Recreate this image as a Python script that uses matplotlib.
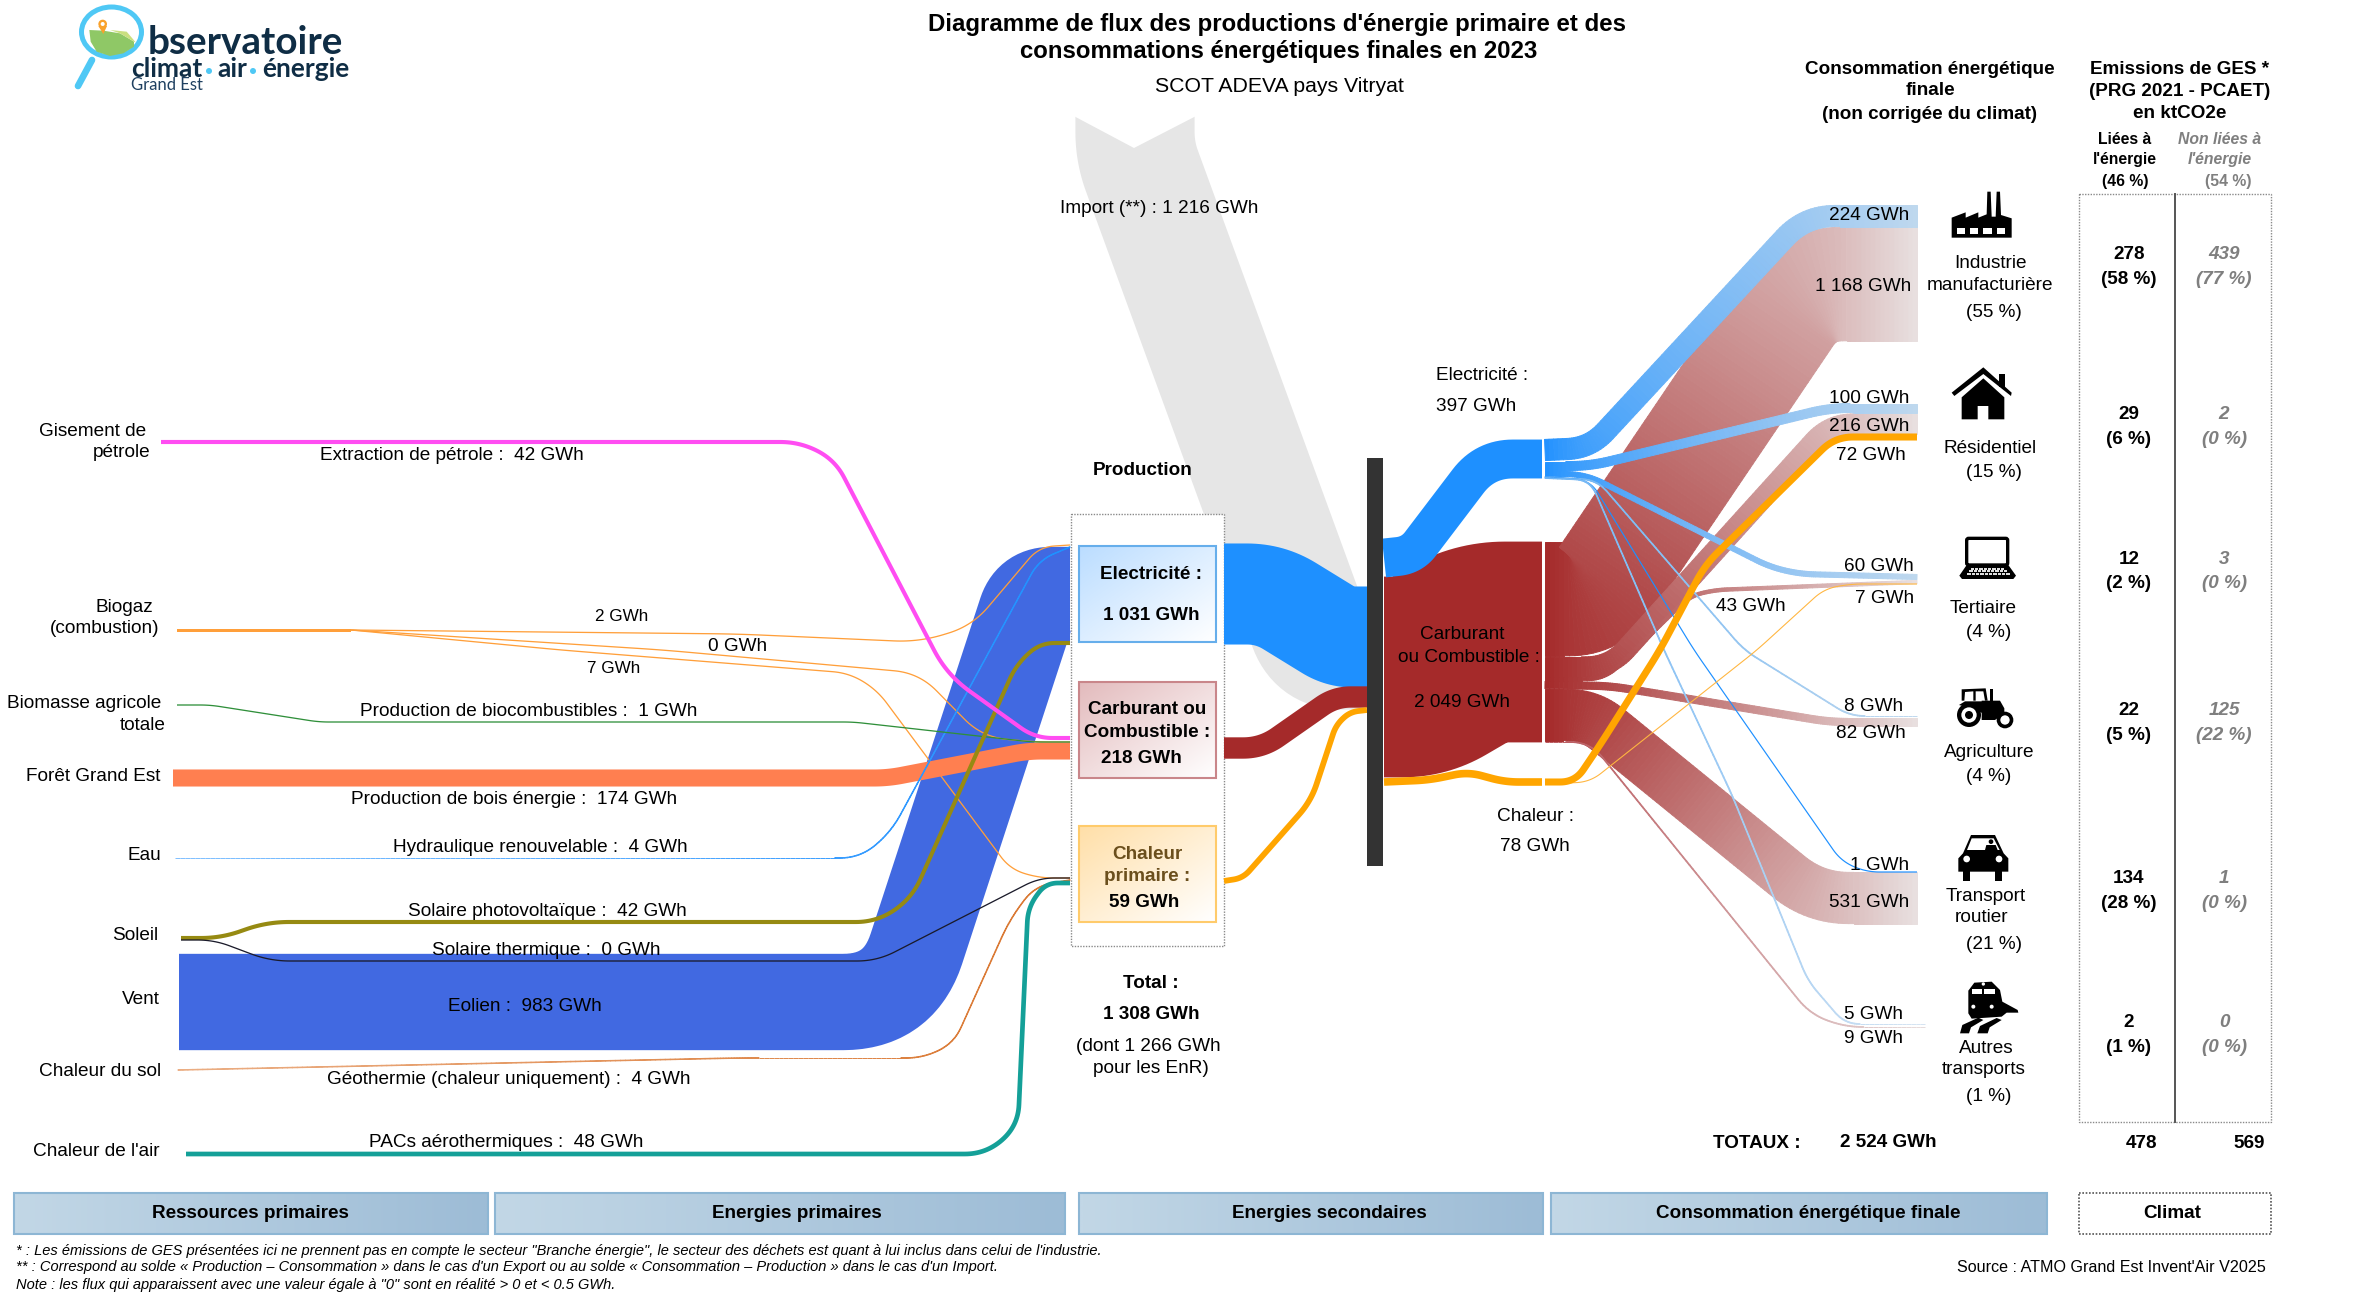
import numpy as np
import matplotlib
matplotlib.use("Agg")
import matplotlib.pyplot as plt
from matplotlib.collections import PolyCollection
from matplotlib.patches import Polygon, Rectangle, Circle, Ellipse, FancyBboxPatch
from matplotlib.colors import to_rgb

plt.rcParams['font.family'] = ['Liberation Sans', 'DejaVu Sans']

# ---------- data (GWh / ktCO2e / %) ----------
prod_petrole = 42
prod_biogaz = [2, 0, 7]
prod_biocomb = 1
prod_bois = 174
prod_hydro = 4
prod_pv = 42
prod_thermique = 0
prod_eolien = 983
prod_geo = 4
prod_pac = 48
prod_totals = [1031, 218, 59]
import_gwh = 1216
secondary = [397, 2049, 78]
sector_names = [["Industrie", "manufacturière"], ["Résidentiel"], ["Tertiaire"], ["Agriculture"],
                ["Transport", "routier"], ["Autres", "transports"]]
sector_share = [55, 15, 4, 4, 21, 1]
elec_to_sector = [224, 100, 60, 8, 1, 5]
fuel_to_sector = [1168, 216, 43, 82, 531, 9]
heat_to_sector = [72, 7]
ges_energy = [278, 29, 12, 22, 134, 2]
ges_energy_pct = [58, 6, 2, 5, 28, 1]
ges_other = [439, 2, 3, 125, 1, 0]
ges_other_pct = [77, 0, 0, 22, 0, 0]
ges_totals = [478, 569]
ges_share = [46, 54]
total_prod = 1308
total_enr = 1266
total_final = 2524
band_labels = ["Ressources primaires", "Energies primaires", "Energies secondaires",
               "Consommation énergétique finale"]

K = 0.098          # px per GWh
fig = plt.figure(figsize=(23.70, 12.99), dpi=100)
ax = fig.add_axes([0, 0, 1, 1])
ax.set_axis_off()


def gwh(v):
    s = f"{v:,}".replace(",", " ")
    return f"{s} GWh"


def round_path(pts, r):
    pts = [np.array(p, float) for p in pts]
    out = [pts[0]]
    for i in range(1, len(pts) - 1):
        a, b, c = pts[i - 1], pts[i], pts[i + 1]
        la, lc = np.linalg.norm(b - a), np.linalg.norm(c - b)
        d = min(r, la * 0.5, lc * 0.5)
        p0 = b - (b - a) / la * d
        p2 = b + (c - b) / lc * d
        for t in np.linspace(0, 1, 17):
            out.append((1 - t) ** 2 * p0 + 2 * t * (1 - t) * b + t ** 2 * p2)
    out.append(pts[-1])
    res = [out[0]]
    for q in out[1:]:
        p = res[-1]
        dist = np.linalg.norm(q - p)
        if dist < 1e-6:
            continue
        n = int(dist // 5) + 1
        for t in np.linspace(0, 1, n + 1)[1:]:
            res.append(p + (q - p) * t)
    return np.array(res)


def flow(value, pts, c0, c1=None, r=30, z=3, minw=1.3, x_span=None, gamma=1.0):
    P = round_path(pts, r)
    Tn = np.gradient(P, axis=0)
    Tn /= np.linalg.norm(Tn, axis=1, keepdims=True)
    N = np.c_[-Tn[:, 1], Tn[:, 0]]
    w = max(K * value, minw) / 2
    if c1 is None:
        A, B = P + N * w, P - N * w
        ax.add_patch(Polygon(np.r_[A, B[::-1]], closed=True, fc=c0, ec='none', zorder=z))
        return
    w = max(w - 0.4, 0.3)
    A, B = P + N * w, P - N * w
    quads = [[A[i], A[i + 1], B[i + 1], B[i]] for i in range(len(P) - 1)]
    c0 = np.array(to_rgb(c0))
    c1 = np.array(to_rgb(c1))
    x0, x1 = x_span if x_span else (P[:, 0].min(), P[:, 0].max())
    tt = np.clip(((P[:-1, 0] + P[1:, 0]) / 2 - x0) / (x1 - x0), 0, 1) ** gamma
    cols = [tuple(c0 + (c1 - c0) * t) for t in tt]
    ax.add_collection(PolyCollection(quads, facecolors=cols, edgecolors=cols, linewidths=0.7, zorder=z))


def T(x, y, s, size=13.7, ha='center', bold=False, italic=False, color='black', z=12, **kw):
    ax.text(x, y + 1.5, s, fontsize=size, ha=ha, va='center', color=color, zorder=z,
            fontweight='bold' if bold else 'normal', fontstyle='italic' if italic else 'normal', **kw)


def grad_box(x0, y0, x1, y1, c0, c1, edge=None, z=6, lw=1.5, horizontal=False):
    n = 64
    X, Y = np.meshgrid(np.linspace(0, 1, n), np.linspace(0, 1, n))
    t = X if horizontal else (X + Y) / 2
    c0, c1 = np.array(to_rgb(c0)), np.array(to_rgb(c1))
    img = c0[None, None, :] + (c1 - c0)[None, None, :] * t[..., None]
    ax.imshow(img, extent=(x0, x1, y1, y0), aspect='auto', zorder=z, interpolation='bilinear')
    if edge:
        ax.add_patch(Rectangle((x0, y0), x1 - x0, y1 - y0, fill=False, ec=edge, lw=lw, zorder=z + 0.1))


def dotted(x0, y0, x1, y1, z=2, ec='#8A8A8A', lw=1.0):
    ax.add_patch(Rectangle((x0, y0), x1 - x0, y1 - y0, fc='white', ec=ec, lw=lw, ls=(0, (1, 1)), zorder=z))


# ---------- import ribbon ----------
flow(import_gwh, [(1135, 112), (1135, 152), (1317, 650), (1367, 650)], '#E6E6E6', r=60, z=1)
ax.add_patch(Polygon([(1070, 114), (1134, 148), (1200, 114), (1200, 100), (1070, 100)], fc='white', ec='none', zorder=1.5))

# ---------- production group frame ----------
dotted(1071, 514, 1224, 946, z=2)

# ---------- resources -> primary ----------
BLUE_W = '#4169E1'
flow(prod_eolien, [(179, 1002), (899, 1002), (1032, 595), (1070, 595)], BLUE_W, r=56, z=3)
# biogas
ORG = '#FF9F3A'
flow(sum(prod_biogaz), [(177, 630), (351, 630)], ORG, minw=3, z=4)
flow(prod_biogaz[0], [(351, 630), (737, 634), (919, 642), (972, 626), (1039, 547), (1070, 545)], ORG, r=25, z=4)
flow(prod_biogaz[1], [(351, 630), (663, 650), (919, 673), (982, 737), (1035, 742), (1070, 742)], ORG, r=25, z=4)
flow(prod_biogaz[2], [(351, 630), (561, 650), (849, 673), (877, 690), (1010, 869), (1039, 878), (1070, 878)], ORG, r=22, z=4)
# biofuel
flow(prod_biocomb, [(177, 705), (210, 705), (319, 722), (853, 722), (1032, 742), (1070, 742)], '#2F8F3A', r=10, z=4.2)
# wood
flow(prod_bois, [(173, 778), (888, 778), (1028, 751), (1070, 751)], '#FF7F50', r=14, z=4)
# hydro
flow(prod_hydro, [(175, 858), (860, 858), (891, 832), (1039, 560), (1070, 547)], '#7FBFFF', '#1E90FF', r=25, z=4)
# sun
flow(prod_pv, [(181, 938), (221, 938), (267, 922), (877, 922), (912, 898), (1016, 665), (1040, 643), (1070, 643)],
     '#968A12', r=22, z=4.3)
flow(prod_thermique, [(181, 940), (214, 940), (270, 961), (877, 961), (1039, 878), (1070, 878)], '#1A1A2A', r=20, z=4.3)
# geothermal
flow(prod_geo, [(178, 1070), (737, 1058), (923, 1058), (954, 1043), (1010, 919), (1035, 886), (1070, 880)],
     '#EBAE84', '#D9762F', r=22, z=4)
# air heat pumps
flow(prod_pac, [(186, 1154), (986, 1154), (1018, 1126), (1028, 907), (1046, 883), (1070, 883)], '#14A098', r=28, z=4.2)
# oil
flow(prod_petrole, [(161, 442), (800, 442), (835, 460), (947, 675), (1035, 738), (1070, 738)], '#FF4DF2', r=28, z=4.4)

# ---------- primary -> bar ----------
flow(prod_totals[0], [(1224, 594), (1270, 594), (1340, 637), (1367, 637)], '#1E90FF', r=30, z=3)
flow(prod_totals[1], [(1224, 748), (1262, 748), (1335, 697), (1367, 697)], '#A52A2A', r=22, z=3.2)
flow(prod_totals[2], [(1224, 881), (1243, 878), (1311, 801), (1336, 725), (1350, 712), (1367, 710)], '#FFA500', r=18, minw=5, z=3.2)

# ---------- primary boxes ----------
grad_box(1079, 546, 1216, 642, '#BBDDFF', '#FFFFFF', '#66AEEB')
grad_box(1079, 682, 1216, 778, '#E3BBBD', '#FFFFFF', '#C9868A')
grad_box(1079, 826, 1216, 922, '#FFDFA8', '#FFFFFF', '#FFCB6B')

# ---------- central bar ----------
ax.add_patch(Rectangle((1367, 458), 16, 408, fc='#333333', ec='none', zorder=5))

# ---------- bar -> secondary nodes ----------
flow(secondary[1], [(1384, 677), (1420, 677), (1480, 642), (1542, 642)], '#A52A2A', r=25, z=3)
flow(secondary[0], [(1384, 558), (1412, 555), (1485, 459), (1542, 459)], '#1E90FF', r=28, z=3.2)
flow(secondary[2], [(1384, 782), (1429, 780), (1468, 772), (1505, 782), (1542, 782)], '#FFA500', r=14, z=3.2)

# ---------- secondary -> sectors ----------
SPAN = (1545, 1917)
RED0, RED1 = '#A52A2A', '#E8E0E0'
BL0, BL1 = '#1E90FF', '#BFD8EE'
GB = 0.7
flow(fuel_to_sector[0], [(1545, 599), (1593, 599), (1806, 284), (1917, 284)], RED0, RED1, r=36, z=3, x_span=SPAN)
flow(fuel_to_sector[4], [(1545, 715), (1590, 715), (1815, 898), (1917, 898)], RED0, RED1, r=34, z=3.1, x_span=SPAN)
flow(fuel_to_sector[1], [(1545, 667), (1610, 667), (1830, 424), (1917, 424)], RED0, RED1, r=24, z=3.2, x_span=SPAN)
flow(fuel_to_sector[2], [(1545, 679), (1605, 679), (1690, 596), (1715, 590), (1917, 582)], RED0, RED1, r=18, z=3.2, x_span=SPAN)
flow(fuel_to_sector[3], [(1545, 685), (1610, 686), (1830, 722), (1917, 722)], RED0, RED1, r=18, z=3.3, x_span=SPAN)
flow(fuel_to_sector[5], [(1545, 742), (1590, 742), (1810, 1014), (1845, 1027), (1925, 1027)], '#B8555A', '#E6DADA', r=20, z=3.3, minw=1.6, x_span=SPAN)

flow(elec_to_sector[0], [(1545, 450), (1590, 448), (1805, 216), (1917, 216)], BL0, BL1, r=30, z=3.6, x_span=SPAN, gamma=GB)
flow(elec_to_sector[1], [(1545, 466), (1590, 466), (1830, 408), (1917, 408)], BL0, BL1, r=20, z=3.6, x_span=SPAN, gamma=GB)
flow(elec_to_sector[2], [(1545, 474), (1585, 474), (1770, 567), (1800, 574), (1917, 577)], BL0, BL1, r=20, z=3.6, x_span=SPAN, gamma=GB)
flow(elec_to_sector[3], [(1545, 477), (1597, 480), (1744, 650), (1850, 716), (1917, 716)], '#6CB4F5', '#BFD8EE', r=15, z=3.6, minw=1.6, x_span=SPAN)
flow(elec_to_sector[4], [(1545, 477), (1590, 480), (1694, 650), (1841, 861), (1866, 872), (1917, 872)], '#1E90FF', r=15, z=3.6, minw=1.2)
flow(elec_to_sector[5], [(1545, 478), (1590, 480), (1664, 650), (1732, 795), (1808, 981), (1845, 1024), (1925, 1024)], '#6CB4F5', '#D5E4F2', r=15, z=3.6, minw=1.6, x_span=SPAN)

flow(heat_to_sector[1], [(1545, 784), (1590, 782), (1757, 650), (1824, 589), (1850, 584), (1917, 584)], '#FFB640', r=14, z=3.7, minw=1.1)
flow(heat_to_sector[0], [(1545, 782), (1575, 782), (1600, 745), (1660, 650), (1705, 565), (1835, 437), (1917, 437)], '#FFA500', r=18, z=3.8, minw=6)

# ---------- icons ----------
def shape(ox, oy, pts, fc='black', z=8, s=3.0):
    ax.add_patch(Polygon([(ox + a / s, oy + b / s) for a, b in pts], fc=fc, ec='none', zorder=z))


def disc(ox, oy, cx, cy, r, fc='black', z=8, s=3.0):
    ax.add_patch(Circle((ox + cx / s, oy + cy / s), r / s, fc=fc, ec='none', zorder=z))


def box(ox, oy, a, b, c, d, fc='black', z=8, s=3.0):
    ax.add_patch(Rectangle((ox + a / s, oy + b / s), (c - a) / s, (d - b) / s, fc=fc, ec='none', zorder=z))


# factory
o = (1945, 185)
shape(*o, [(20, 158), (20, 98), (62, 82), (62, 98), (100, 82), (100, 98), (125, 88), (127, 20), (137, 20), (140, 95),
           (152, 95), (155, 20), (165, 20), (168, 90), (200, 100), (200, 158)])
for a in (35, 75, 115, 155):
    box(*o, a, 130, a + 25, 148, fc='white', z=8.1)
# house
o = (1945, 360)
box(*o, 162, 42, 180, 80)
shape(*o, [(20, 98), (115, 22), (200, 98), (198, 108), (115, 42), (28, 108)])
shape(*o, [(50, 112), (115, 55), (178, 112), (178, 178), (130, 178), (130, 138), (98, 138), (98, 178), (50, 178)])
# laptop
o = (1950, 525)
ax.add_patch(FancyBboxPatch((o[0] + 50 / 3, o[1] + 40 / 3), 123 / 3, 80 / 3, boxstyle="round,pad=0,rounding_size=2",
                            fc='white', ec='black', lw=2.4, zorder=8))
shape(*o, [(50, 120), (175, 120), (198, 152), (190, 162), (36, 162), (28, 152)])
for row, (yy, a0, a1) in enumerate([(128, 62, 162), (136, 58, 166), (144, 52, 172)]):
    for xx in np.arange(a0, a1, 13):
        box(*o, xx, yy, xx + 10, yy + 6, fc='#E0E0E0', z=8.1)
# tractor
o = (1945, 670)
shape(*o, [(110, 92), (165, 92), (178, 115), (178, 130), (150, 150), (110, 150)])
shape(*o, [(42, 105), (60, 94), (115, 94), (115, 130), (60, 110)])
shape(*o, [(50, 58), (122, 55), (128, 92), (120, 92), (115, 64), (92, 64), (92, 92), (85, 92), (85, 64), (60, 66), (58, 92), (50, 92)])
box(*o, 135, 58, 145, 92)
disc(*o, 72, 135, 36)
disc(*o, 72, 135, 23, fc='white', z=8.1)
disc(*o, 72, 135, 12, z=8.2)
disc(*o, 180, 150, 25)
disc(*o, 180, 150, 14, fc='white', z=8.1)
# car
o = (1945, 825)
shape(*o, [(78, 30), (150, 30), (176, 85), (190, 100), (190, 140), (40, 140), (40, 100), (54, 85)])
shape(*o, [(80, 40), (146, 40), (164, 75), (66, 75)], fc='white', z=8.1)
disc(*o, 138, 50, 7, z=8.2)
shape(*o, [(120, 75), (124, 60), (152, 60), (158, 75)], z=8.2)
disc(*o, 65, 102, 10, fc='white', z=8.1)
disc(*o, 162, 102, 10, fc='white', z=8.1)
box(*o, 55, 138, 76, 168)
box(*o, 150, 138, 172, 168)
# train
o = (1945, 970)
shape(*o, [(70, 130), (70, 62), (88, 38), (140, 35), (165, 60), (172, 95), (218, 120), (220, 128), (185, 128), (170, 140), (80, 146)])
box(*o, 80, 57, 112, 72, fc='white', z=8.1)
box(*o, 118, 57, 150, 72, fc='white', z=8.1)
disc(*o, 85, 110, 6, fc='white', z=8.1)
disc(*o, 140, 110, 6, fc='white', z=8.1)
disc(*o, 115, 42, 5, fc='white', z=8.1)
for q in ([(45, 190), (52, 165), (100, 143), (115, 150), (78, 172), (72, 190)],
          [(97, 190), (105, 168), (155, 144), (170, 150), (134, 172), (128, 190)]):
    shape(*o, q)

# ---------- logo ----------
CY = '#4FC8F5'
ax.plot([92, 78], [60, 86], color=CY, lw=4.8, solid_capstyle='round', zorder=7)
ax.add_patch(Ellipse((111.5, 32), 60, 50, fc='white', ec=CY, lw=3.6, zorder=7))
shape(60, 0, [(88, 90), (130, 92), (180, 100), (222, 125), (222, 140), (190, 160), (150, 168), (110, 155), (92, 125)], fc='#8FC866')
shape(60, 0, [(150, 90), (200, 95), (228, 128), (222, 125), (180, 100)], fc='#CADF80')
disc(60, 0, 128, 72, 13, fc='#F9A12B', z=8.2)
disc(60, 0, 128, 72, 6, fc='white', z=8.3)
shape(60, 0, [(115, 78), (141, 78), (130, 102)], fc='#F9A12B', z=8.1)
NAVY = '#0F2D45'
ax.text(148, 42, "bservatoire", fontsize=27.8, family='Lato', fontweight='bold', color=NAVY, ha='left', va='center', zorder=9)
ax.text(131, 69, "climat", fontsize=19, family='Lato', fontweight='bold', color=NAVY, ha='left', va='center', zorder=9)
ax.text(217, 69, "air", fontsize=19, family='Lato', fontweight='bold', color=NAVY, ha='left', va='center', zorder=9)
ax.text(262, 69, "énergie", fontsize=19, family='Lato', fontweight='bold', color=NAVY, ha='left', va='center', zorder=9)
disc(0, 0, 209, 71, 3, fc=CY, s=1)
disc(0, 0, 253, 71, 3, fc=CY, s=1)
ax.text(131, 85, "Grand Est", fontsize=12, family='Lato', color='#1F4060', ha='left', va='center', zorder=9)

# ---------- titles ----------
T(1277, 23, "Diagramme de flux des productions d'énergie primaire et des", size=17.3, bold=True)
T(1279, 50, "consommations énergétiques finales en 2023", size=17.3, bold=True)
T(1279, 85, "SCOT ADEVA pays Vitryat", size=15.3)

H = 13.6
for s, y in zip(["Consommation énergétique", "finale", "(non corrigée du climat)"], [68, 89, 113]):
    T(1930, y, s, size=H, bold=True)
for s, y in zip(["Emissions de GES *", "(PRG 2021 - PCAET)", "en ktCO2e"], [68, 90, 112]):
    T(2180, y, s, size=H, bold=True)
for s, y in zip(["Liées à", "l'énergie", f"({ges_share[0]} %)"], [138, 158, 180]):
    T(2125, y, s, size=11.3, bold=True)
for s, y in zip(["Non liées à", "l'énergie"], [138, 158]):
    T(2220, y, s, size=11.3, bold=True, italic=True, color='#7F7F7F')
T(2228, 180, f"({ges_share[1]} %)", size=11.3, bold=True, color='#7F7F7F')

# ---------- left labels ----------
for s, x, y in [("Gisement de", 146, 430), ("pétrole", 150, 451), ("Biogaz", 153, 606), ("(combustion)", 159, 627),
                ("Biomasse agricole", 161, 702), ("totale", 166, 724), ("Forêt Grand Est", 160, 775), ("Eau", 161, 854),
                ("Soleil", 158, 934), ("Vent", 160, 998), ("Chaleur du sol", 161, 1070), ("Chaleur de l'air", 160, 1150)]:
    T(x, y, s, ha='right')

T(452, 454, f"Extraction de pétrole :  {gwh(prod_petrole)}")
T(622, 615, gwh(prod_biogaz[0]), size=12.3)
T(738, 645, gwh(prod_biogaz[1]))
T(614, 667, gwh(prod_biogaz[2]), size=12.3)
T(529, 710, f"Production de biocombustibles :  {gwh(prod_biocomb)}")
T(514, 798, f"Production de bois énergie :  {gwh(prod_bois)}")
T(540, 846, f"Hydraulique renouvelable :  {gwh(prod_hydro)}")
T(547, 910, f"Solaire photovoltaïque :  {gwh(prod_pv)}")
T(546, 949, f"Solaire thermique :  {gwh(prod_thermique)}")
T(525, 1005, f"Eolien :  {gwh(prod_eolien)}")
T(509, 1078, f"Géothermie (chaleur uniquement) :  {gwh(prod_geo)}")
T(506, 1141, f"PACs aérothermiques :  {gwh(prod_pac)}")

# ---------- centre labels ----------
T(1143, 469, "Production", bold=True, size=H)
T(1151, 573, "Electricité :", bold=True, size=H)
T(1151, 614, gwh(prod_totals[0]), bold=True, size=H)
T(1147, 708, "Carburant ou", bold=True, size=H)
T(1147, 731, "Combustible :", bold=True, size=H)
T(1141, 757, gwh(prod_totals[1]), bold=True, size=H)
T(1147, 853, "Chaleur", bold=True, color='#6B4F1D', size=H)
T(1147, 875, "primaire :", bold=True, color='#6B4F1D', size=H)
T(1144, 901, gwh(prod_totals[2]), bold=True, size=H)
T(1151, 982, "Total :", bold=True, size=H)
T(1151, 1013, gwh(total_prod), bold=True, size=H)
T(1148, 1045, f"(dont {gwh(total_enr)}")
T(1151, 1067, "pour les EnR)")
T(1159, 207, f"Import (**) : {gwh(import_gwh)}")
T(1436, 374, "Electricité :", ha='left')
T(1436, 405, gwh(secondary[0]), ha='left')
T(1462, 633, "Carburant")
T(1469, 656, "ou Combustible :")
T(1462, 701, gwh(secondary[1]))
T(1497, 815, "Chaleur :", ha='left')
T(1500, 845, gwh(secondary[2]), ha='left')

for v, x, y in [(elec_to_sector[0], 1909, 214), (fuel_to_sector[0], 1911, 285), (elec_to_sector[1], 1909, 397),
                (fuel_to_sector[1], 1909, 425), (heat_to_sector[0], 1906, 454), (elec_to_sector[2], 1914, 565),
                (heat_to_sector[1], 1914, 597), (elec_to_sector[3], 1903, 705), (fuel_to_sector[3], 1906, 732),
                (elec_to_sector[4], 1909, 864), (fuel_to_sector[4], 1909, 901), (elec_to_sector[5], 1903, 1013),
                (fuel_to_sector[5], 1903, 1037)]:
    T(x, y, gwh(v), ha='right')
T(1751, 605, gwh(fuel_to_sector[2]))
T(1757, 1142, "TOTAUX :", bold=True, size=H)
T(1888, 1141, gwh(total_final), bold=True, size=H)

# ---------- sectors ----------
name_pos = [[(1990, 262), (1990, 284)], [(1990, 447)], [(1983, 607)], [(1989, 751)], [(1986, 895), (1982, 916)],
            [(1986, 1047), (1984, 1068)]]
pct_pos = [(1994, 311), (1994, 471), (1989, 631), (1989, 775), (1994, 943), (1989, 1095)]
for names, np_, share, pp in zip(sector_names, name_pos, sector_share, pct_pos):
    for s, (x, y) in zip(names, np_):
        T(x, y, s)
    T(pp[0], pp[1], f"({share} %)")

# ---------- emissions table ----------
dotted(2079, 194, 2271, 1122, z=2)
ax.plot([2175, 2175], [194, 1122], color='#555555', lw=1.4, zorder=3)
row_y = [(253, 278), (413, 438), (558, 582), (709, 734), (877, 902), (1021, 1046)]
for (y0, y1), a, ap, b, bp in zip(row_y, ges_energy, ges_energy_pct, ges_other, ges_other_pct):
    T(2129, y0, str(a), bold=True, size=H)
    T(2129, y1, f"({ap} %)", bold=True, size=H)
    T(2224, y0, str(b), bold=True, italic=True, color='#7F7F7F', size=H)
    T(2224, y1, f"({bp} %)", bold=True, italic=True, color='#7F7F7F', size=H)
T(2142, 1142, str(ges_totals[0]), bold=True, size=H)
T(2249, 1142, str(ges_totals[1]), bold=True, size=H)

# ---------- bottom bands ----------
for s, (a, b), cx in zip(band_labels, [(14, 488), (495, 1065), (1079, 1543), (1551, 2047)], [250, 797, 1329, 1808]):
    grad_box(a, 1193, b, 1234, '#C2D7E6', '#9DBCD6', '#8DB6D4', z=2, horizontal=True)
    T(cx, 1212, s, bold=True, size=H)
dotted(2079, 1193, 2271, 1234, z=2, ec='#555555', lw=1.2)
T(2172, 1212, "Climat", bold=True, size=H)

# ---------- notes ----------
FN = 10.5
T(16, 1250, '* : Les émissions de GES présentées ici ne prennent pas en compte le secteur "Branche énergie", le secteur des déchets est quant à lui inclus dans celui de l\'industrie.', size=FN, ha='left', italic=True)
T(16, 1266, "** : Correspond au solde « Production – Consommation » dans le cas d'un Export ou au solde « Consommation – Production » dans le cas d'un Import.", size=FN, ha='left', italic=True)
T(16, 1283, 'Note : les flux qui apparaissent avec une valeur égale à "0" sont en réalité > 0 et < 0.5 GWh.', size=FN, ha='left', italic=True)
T(2266, 1266, "Source : ATMO Grand Est Invent'Air V2025", size=11.6, ha='right')

ax.set_xlim(0, 2370)
ax.set_ylim(1299, 0)
fig.savefig("out.png", dpi=100, facecolor='white')
